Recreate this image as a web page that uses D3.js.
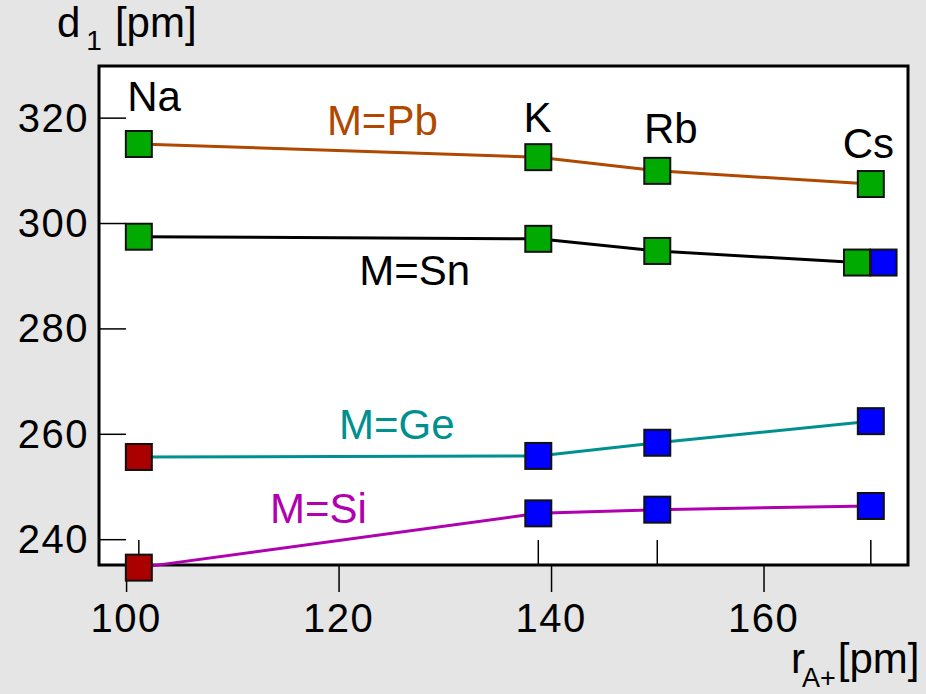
<!DOCTYPE html>
<html>
<head>
<meta charset="utf-8">
<script src="https://cdn.jsdelivr.net/npm/d3@7"></script>
<style>
  html, body { margin: 0; padding: 0; background: #e5e5e5; }
  svg { display: block; font-family: "Liberation Sans", Arial, sans-serif; }
</style>
</head>
<body>
<svg id="chart" width="926" height="694"></svg>
<script>
// A-cation radii (pm) and d1 distances (pm) for each M
const cations = ["Na", "K", "Rb", "Cs"];
const radii = [101.2, 138.8, 150.0, 170.1];
const dPb = [315.0, 312.5, 309.9, 307.4];
const dSn = [297.4, 297.0, 294.7, 292.5];
const dGe = [255.6, 255.8, 258.3, 262.4];
const dSi = [234.6, 244.9, 245.6, 246.3];
// Sn at Cs has two overlapping points drawn side by side
const snX = [101.2, 138.8, 150.0, 168.8];
const snExtra = { x: 171.3, y: 292.5 };
const xTicks = [100, 120, 140, 160];
const yTicks = [240, 260, 280, 300, 320];

const GREEN = "#00aa00", BLUE = "#0000ff", RED = "#aa0000";

const series = [
  { name: "M=Pb", xs: radii, ys: dPb, color: "#b04800", fills: [GREEN, GREEN, GREEN, GREEN] },
  { name: "M=Sn", xs: snX,   ys: dSn, color: "#000000", fills: [GREEN, GREEN, GREEN, GREEN] },
  { name: "M=Ge", xs: radii, ys: dGe, color: "#009090", fills: [RED, BLUE, BLUE, BLUE] },
  { name: "M=Si", xs: radii, ys: dSi, color: "#b000b0", fills: [RED, BLUE, BLUE, BLUE] }
];

// text anchors in data coordinates
const cationLabels = [
  { t: "Na", x: 100.1, y: 321.3 },
  { t: "K",  x: 137.4, y: 317.3 },
  { t: "Rb", x: 148.75, y: 315.1 },
  { t: "Cs", x: 167.45, y: 312.4 }
];
const seriesLabels = [
  { x: 118.9, y: 316.7 },
  { x: 121.95, y: 288.2 },
  { x: 120.05, y: 259.1 },
  { x: 113.55, y: 243.0 }
];

const svg = d3.select("#chart");
const frame = { left: 99, right: 908, top: 66, bottom: 565 };
const fs = 42;

const x = d3.scaleLinear().domain([97.45, 173.6]).range([frame.left, frame.right]);
const y = d3.scaleLinear().domain([235.1, 329.8]).range([frame.bottom, frame.top]);

svg.append("rect")
  .attr("x", frame.left).attr("y", frame.top)
  .attr("width", frame.right - frame.left).attr("height", frame.bottom - frame.top)
  .attr("fill", "#fff");

// y axis: ticks inside the frame
svg.append("g")
  .attr("transform", `translate(${frame.left},0)`)
  .call(d3.axisRight(y).tickValues(yTicks).tickSize(27).tickFormat(""))
  .call(g => g.select(".domain").remove())
  .call(g => g.selectAll("line").attr("stroke", "#000").attr("stroke-width", 1.5));

svg.append("g").selectAll("text")
  .data(yTicks)
  .join("text")
  .attr("x", 89)
  .attr("y", d => y(d) + 14)
  .attr("text-anchor", "end")
  .attr("font-size", 40)
  .attr("letter-spacing", 1.5)
  .text(d => d);

// x axis: ticks outside the frame
svg.append("g")
  .attr("transform", `translate(0,${frame.bottom})`)
  .call(d3.axisBottom(x).tickValues(xTicks).tickSize(27).tickFormat(""))
  .call(g => g.select(".domain").remove())
  .call(g => g.selectAll("line").attr("stroke", "#000").attr("stroke-width", 1.5));

svg.append("g").selectAll("text")
  .data(xTicks)
  .join("text")
  .attr("x", d => x(d))
  .attr("y", 632)
  .attr("text-anchor", "middle")
  .attr("font-size", 40)
  .attr("letter-spacing", 1.5)
  .text(d => d);

// cation position ticks inside bottom edge
svg.append("g").selectAll("line")
  .data(radii)
  .join("line")
  .attr("x1", d => x(d)).attr("x2", d => x(d))
  .attr("y1", frame.bottom).attr("y2", frame.bottom - 25)
  .attr("stroke", "#000").attr("stroke-width", 1.5);

// frame
svg.append("rect")
  .attr("x", frame.left).attr("y", frame.top)
  .attr("width", frame.right - frame.left).attr("height", frame.bottom - frame.top)
  .attr("fill", "none").attr("stroke", "#000").attr("stroke-width", 3);

const line = d3.line().x(d => x(d[0])).y(d => y(d[1]));

series.forEach((s, i) => {
  const pts = s.xs.map((v, j) => [v, s.ys[j]]);
  svg.append("path")
    .datum(pts)
    .attr("fill", "none")
    .attr("stroke", s.color)
    .attr("stroke-width", 3)
    .attr("d", line);

  svg.append("text")
    .attr("x", x(seriesLabels[i].x))
    .attr("y", y(seriesLabels[i].y))
    .attr("font-size", fs)
    .attr("fill", s.color)
    .text(s.name);
});

const ms = 26;
const markers = [];
series.forEach(s => s.xs.forEach((v, j) => markers.push({ x: v, y: s.ys[j], fill: s.fills[j] })));
markers.push({ x: snExtra.x, y: snExtra.y, fill: BLUE });

svg.append("g").selectAll("rect")
  .data(markers)
  .join("rect")
  .attr("x", d => x(d.x) - ms / 2)
  .attr("y", d => y(d.y) - ms / 2)
  .attr("width", ms).attr("height", ms)
  .attr("fill", d => d.fill)
  .attr("stroke", "#111")
  .attr("stroke-width", 2);

svg.append("g").selectAll("text")
  .data(cationLabels)
  .join("text")
  .attr("x", d => x(d.x))
  .attr("y", d => y(d.y))
  .attr("font-size", fs)
  .text(d => d.t);

// axis titles
const yt = svg.append("text").attr("x", 57).attr("y", 37).attr("font-size", fs);
yt.append("tspan").text("d");
yt.append("tspan").attr("dx", 6).attr("dy", 13).attr("font-size", 28).text("1");
yt.append("tspan").attr("dx", 13).attr("dy", -13).text("[pm]");

const xt = svg.append("text").attr("x", 791).attr("y", 673).attr("font-size", fs);
xt.append("tspan").text("r");
xt.append("tspan").attr("dx", -3).attr("dy", 14).attr("font-size", 27).text("A+");
xt.append("tspan").attr("dx", 2).attr("dy", -14).text("[pm]");
</script>
</body>
</html>
